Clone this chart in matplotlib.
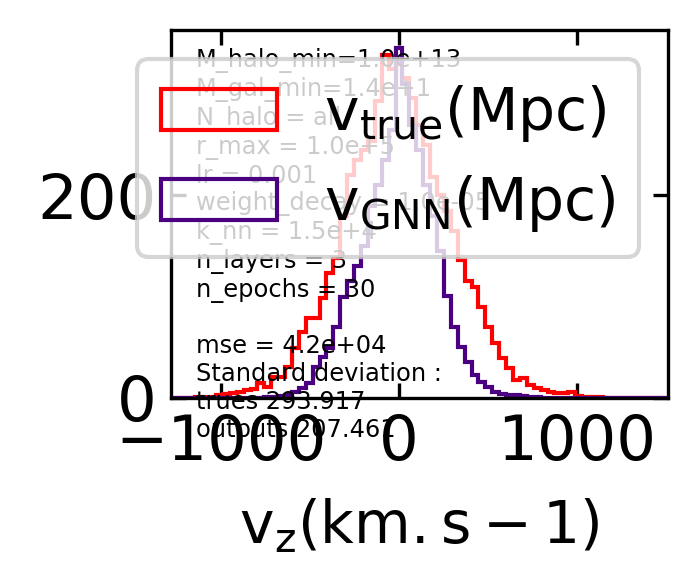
import matplotlib
matplotlib.use('Agg')
import matplotlib.pyplot as plt
import numpy as np

plt.rcParams['mathtext.default'] = 'regular'

# bins of ~38.8 km/s, centred on multiples of the width
bin_width = 38.8
bin_index = np.arange(-33, 40)

true_counts = [0.3, 0.2, 0.4, 0.3, 0.5, 0.6, 1.0, 2.5, 3.5, 4.5, 6.0, 7.5, 8.5,
               14.8, 10.8, 20.7, 21.0, 30.5, 49.0, 65.0, 79.0, 79.0, 98.5, 123, 138,
               180, 220, 234.5, 245, 254, 293.5, 339, 325,
               330, 316, 296.5, 270, 250, 218, 200, 185, 165, 136,
               116, 110, 90, 70, 54, 39.5, 30, 17.7, 19.7, 12.8,
               10, 7.9, 6.0, 5.0, 5.0, 6.0, 1.5, 1.0, 0.6, 0.5,
               0.4, 0.3, 0.2, 0.3, 0.2, 0.1, 0.2, 0.1, 0.3, 0]

gnn_counts = [0] * 13 + [0.2, 0.5, 1.2, 2.2, 3.0, 6.0, 10, 15, 30.5, 40, 49,
                         70, 100, 116, 130, 150, 190, 210, 235, 265,
                         346, 310, 270, 245, 210, 180, 145, 101, 70,
                         50, 36, 23, 15.8, 10.8, 6.0, 4.0, 3.0, 2.8, 2.0, 1.0,
                         0.5, 0.2] + [0] * 18

stats = ("M_halo_min=1.0e+13\nM_gal_min=1.4e+1\nN_halo = all\n"
         "r_max = 1.0e+5\nlr = 0.001\nweight_decay = 1.0e-05\n"
         "k_nn = 1.5e+4\nn_layers = 3\nn_epochs = 30\n\n"
         "mse = 4.2e+04\nStandard deviation :\ntrues 293.917\noutputs 207.461")

centers = bin_index * bin_width
edges = np.append(centers - bin_width / 2, centers[-1] + bin_width / 2)

fig, ax = plt.subplots(figsize=(697 / 300, 584 / 300), dpi=300)
fig.subplots_adjust(left=0.2453, right=0.9584, top=0.9486, bottom=0.3185)

ax.hist(centers, bins=edges, weights=true_counts, histtype='step',
        color='red', label=r'$v_{true} (Mpc)$')
ax.hist(centers, bins=edges, weights=gnn_counts, histtype='step',
        color='indigo', label=r'$v_{GNN} (Mpc)$')

ax.set_xlim(-1281, 1511)
ax.set_xticks([-1000, 0, 1000])
ax.set_yticks([0, 200])
ax.tick_params(direction='in', top=True, right=True, labelsize=15)

ax.text(0.05, 0.95, stats, transform=ax.transAxes, va='top', fontsize=5.8)
ax.set_xlabel(r'$v_z (km.s-1)$', fontsize=14, labelpad=5.7)
ax.legend(loc='upper right', fontsize=14)

fig.savefig('out.png', dpi=300)
